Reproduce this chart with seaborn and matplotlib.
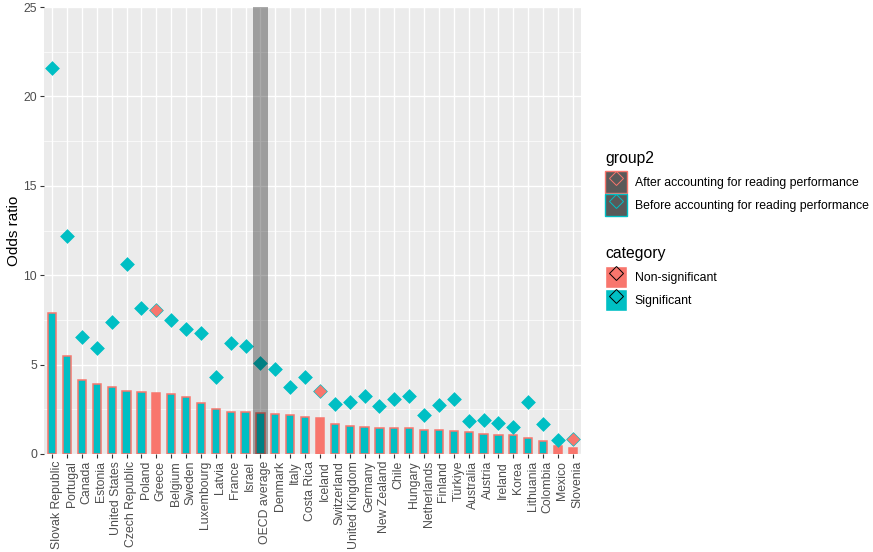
import pandas as pd
import matplotlib.pyplot as plt
import matplotlib.transforms as mtransforms
import seaborn as sns
from matplotlib.patches import Patch
from matplotlib.lines import Line2D
from matplotlib.legend_handler import HandlerTuple

# Data
countries = ["Slovak Republic", "Portugal", "Canada", "Estonia", "United States",
             "Czech Republic", "Poland", "Greece", "Belgium", "Sweden", "Luxembourg",
             "Latvia", "France", "Israel", "OECD average", "Denmark", "Italy",
             "Costa Rica", "Iceland", "Switzerland", "United Kingdom", "Germany",
             "New Zealand", "Chile", "Hungary", "Netherlands", "Finland", "Türkiye",
             "Australia", "Austria", "Ireland", "Korea", "Lithuania", "Colombia",
             "Mexico", "Slovenia"]
after = [7.9, 5.5, 4.15, 3.92, 3.75, 3.53, 3.48, 3.42, 3.36, 3.2, 2.86,
         2.52, 2.35, 2.35, 2.3, 2.22, 2.17, 2.06, 2.0, 1.66, 1.55, 1.5,
         1.44, 1.44, 1.44, 1.33, 1.33, 1.27, 1.21, 1.1, 1.05, 1.05, 0.88,
         0.73, 0.45, 0.34]
after_cat = ["S", "S", "S", "S", "S", "S", "S", "N", "S", "S", "S",
             "S", "S", "S", "S", "S", "S", "S", "N", "S", "S", "S",
             "S", "S", "S", "S", "S", "S", "S", "S", "S", "S", "S",
             "S", "N", "N"]
before = [21.58, 12.22, 6.56, 5.94, 7.4, 10.6, 8.18, 8.07, 7.51, 7.0, 6.78,
          4.32, 6.22, 6.05, 5.1, 4.73, 3.72, 4.32, 3.51, 2.79, 2.9, 3.23,
          2.67, 3.07, 3.23, 2.17, 2.73, 3.07, 1.83, 1.89, 1.72, 1.5, 2.9,
          1.66, 0.77, 0.82]
before_cat = ["S", "S", "S", "S", "S", "S", "S", "N", "S", "S", "S",
              "S", "S", "S", "S", "S", "S", "S", "N", "S", "S", "S",
              "S", "S", "S", "S", "S", "S", "S", "S", "S", "S", "S",
              "S", "S", "N"]

RED = "#F8766D"
TEAL = "#00BFC4"
names = {"N": "Non-significant", "S": "Significant"}
palette = {"Non-significant": RED, "Significant": TEAL}

df = pd.DataFrame({"country": countries, "after": after, "before": before,
                   "cat_after": [names[c] for c in after_cat],
                   "cat_before": [names[c] for c in before_cat]})

plt.rcParams["font.family"] = ["Liberation Sans", "DejaVu Sans"]
fig = plt.figure(figsize=(8.73, 5.52), dpi=100)
ax = fig.add_axes([44 / 873, 1 - 454 / 552, (581 - 44) / 873, (454 - 7) / 552])
ax.set_facecolor("#EBEBEB")

sns.barplot(data=df, x="country", y="after", hue="cat_after", palette=palette,
            order=countries, dodge=False, width=0.55, saturation=1,
            edgecolor=RED, linewidth=1.1, legend=False, ax=ax, zorder=2)
sns.stripplot(data=df, x="country", y="before", hue="cat_before", palette=palette,
              order=countries, jitter=False, marker="D", size=7,
              edgecolor=TEAL, linewidth=0.5, legend=False, ax=ax, zorder=3)

# OECD average highlight
oecd = countries.index("OECD average")
ax.axvspan(oecd - 0.5, oecd + 0.5, color="black", alpha=0.33, lw=0, zorder=4)

ax.set_ylim(0, 25)
ax.set_xlim(-0.55, len(countries) - 0.45)
ax.set_yticks([0, 5, 10, 15, 20, 25])
ax.set_yticks([2.5, 7.5, 12.5, 17.5, 22.5], minor=True)
ax.grid(which="major", color="white", linewidth=1.0, zorder=0)
ax.grid(which="minor", axis="y", color="white", linewidth=0.5, zorder=0)
ax.set_axisbelow(True)
ax.tick_params(axis="x", which="major", rotation=90, labelsize=8.8,
               labelcolor="#4D4D4D", color="#333333", length=3, width=0.8, pad=2)
ax.tick_params(axis="y", which="major", labelsize=8.8, labelcolor="#4D4D4D",
               color="#333333", length=3, width=0.8, pad=2)
ax.tick_params(axis="y", which="minor", length=0)
# rotated labels sit slightly right of their ticks, as in the original
shift = mtransforms.ScaledTranslation(0.045, 0, fig.dpi_scale_trans)
for lab in ax.get_xticklabels():
    lab.set_transform(lab.get_transform() + shift)
for s in ax.spines.values():
    s.set_visible(False)
ax.set_xlabel("")
ax.set_ylabel("Odds ratio", fontsize=11, labelpad=2)

# Legends
leg_kw = dict(loc="upper left", frameon=False, fontsize=8.8, title_fontsize=11.3,
              alignment="left", handler_map={tuple: HandlerTuple(ndivide=1)},
              handlelength=1.8, handleheight=2.4, labelspacing=0.08,
              handletextpad=0.65, borderaxespad=0)
h_group = [(Patch(facecolor="#595959", edgecolor=c, lw=1.0),
            Line2D([], [], marker="D", ls="none", markersize=7,
                   markerfacecolor="none", markeredgecolor=c, markeredgewidth=0.7))
           for c in (RED, TEAL)]
leg1 = fig.legend(h_group, ["After accounting for reading performance",
                            "Before accounting for reading performance"],
                  title="group2", bbox_to_anchor=(600 / 873, 1 - 146 / 552), **leg_kw)
h_cat = [(Patch(facecolor=c, edgecolor="white", lw=1.0),
          Line2D([], [], marker="D", ls="none", markersize=7,
                 markerfacecolor="none", markeredgecolor="black", markeredgewidth=0.7))
         for c in (RED, TEAL)]
leg2 = fig.legend(h_cat, ["Non-significant", "Significant"],
                  title="category", bbox_to_anchor=(600 / 873, 1 - 241 / 552), **leg_kw)
# a bit more room between legend title and keys
for leg in (leg1, leg2):
    leg._legend_box.sep = 3.6

fig.savefig("out.png", dpi=100)
